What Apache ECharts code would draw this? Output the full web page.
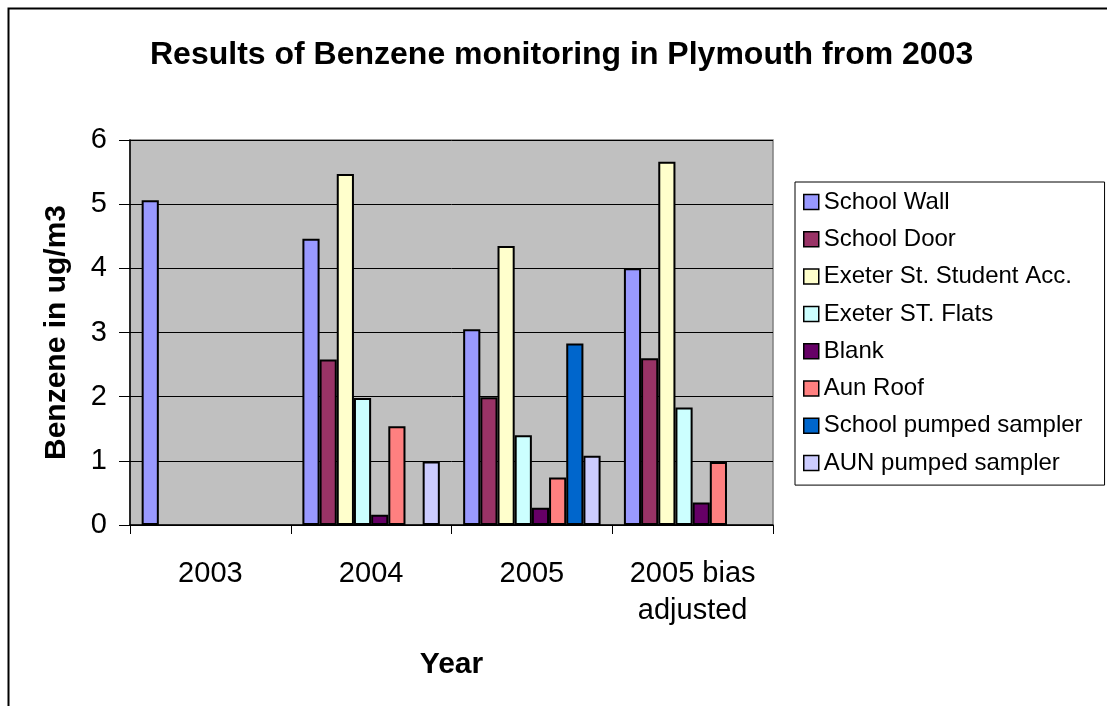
<!DOCTYPE html>
<html>
<head>
<meta charset="utf-8">
<title>Benzene monitoring in Plymouth</title>
<script src="https://cdn.jsdelivr.net/npm/echarts@6/dist/echarts.min.js"></script>
<style>
  html, body { margin: 0; padding: 0; background: #fff; }
  #chart { width: 1107px; height: 706px; }
</style>
</head>
<body>
<div id="chart"></div>
<script>
// categories (x axis)
const years = ['2003', '2004', '2005', '2005 bias\nadjusted']

// series values, null where no bar
const schoolWall = [5.06, 4.46, 3.05, 4.0]
const schoolDoor = [null, 2.58, 1.99, 2.6]
const exeterStudent = [null, 5.47, 4.35, 5.66]
const exeterFlats = [null, 1.98, 1.4, 1.83]
const blank = [null, 0.16, 0.27, 0.35]
const aunRoof = [null, 1.54, 0.74, 0.98]
const schoolPumped = [null, null, 2.83, null]
const aunPumped = [null, 0.99, 1.08, null]

const seriesNames = [
  'School Wall',
  'School Door',
  'Exeter St. Student Acc.',
  'Exeter ST. Flats',
  'Blank',
  'Aun Roof',
  'School pumped sampler',
  'AUN pumped sampler',
]
const seriesData = [schoolWall, schoolDoor, exeterStudent, exeterFlats, blank, aunRoof, schoolPumped, aunPumped]
const colors = ['#9999FF', '#993366', '#FFFFCC', '#CCFFFF', '#660066', '#FF8080', '#0066CC', '#CCCCFF']

const font = '"Liberation Sans", Arial, Helvetica, sans-serif'

const chart = echarts.init(document.getElementById('chart'), null, { renderer: 'canvas' })

const option = {
  animation: false,
  backgroundColor: '#fff',
  color: colors,
  textStyle: { fontFamily: font, color: '#000' },
  title: {
    text: 'Results of Benzene monitoring in Plymouth from 2003',
    left: 150,
    top: 39,
    padding: 0,
    textStyle: { fontFamily: font, fontSize: 32, fontWeight: 'bold', color: '#000' },
  },
  legend: {
    orient: 'vertical',
    left: 795,
    top: 182,
    padding: [8, 22, 10, 8],
    itemGap: 13.3,
    itemWidth: 15,
    itemHeight: 15,
    icon: 'rect',
    borderColor: '#000',
    borderWidth: 1,
    backgroundColor: '#fff',
    itemStyle: { borderColor: '#000', borderWidth: 1.5 },
    textStyle: { fontFamily: font, fontSize: 24, lineHeight: 24, color: '#000' },
    data: seriesNames,
  },
  grid: {
    left: 130,
    right: 334,
    top: 140,
    bottom: 181,
    show: true,
    backgroundColor: '#C0C0C0',
    borderColor: '#808080',
    borderWidth: 1.5,
  },
  xAxis: {
    type: 'category',
    data: years,
    name: 'Year',
    nameLocation: 'middle',
    nameGap: 125,
    nameTextStyle: { fontFamily: font, fontSize: 30, fontWeight: 'bold', color: '#000' },
    axisLine: { lineStyle: { color: '#000', width: 1.5 } },
    axisTick: { show: true, interval: 0, length: 9, lineStyle: { color: '#000', width: 1 } },
    axisLabel: { interval: 0, margin: 30, fontSize: 29, lineHeight: 37, color: '#000', fontFamily: font },
  },
  yAxis: {
    type: 'value',
    min: 0,
    max: 6,
    interval: 1,
    name: 'Benzene in ug/m3',
    nameLocation: 'middle',
    nameGap: 58,
    nameTextStyle: { fontFamily: font, fontSize: 30, fontWeight: 'bold', color: '#000' },
    axisLine: { show: true, lineStyle: { color: '#000', width: 1.5 } },
    axisTick: { show: true, length: 11, lineStyle: { color: '#000', width: 1 } },
    axisLabel: { margin: 23, fontSize: 29, color: '#000', fontFamily: font },
    splitLine: { show: true, lineStyle: { color: '#000', width: 1 } },
  },
  series: seriesNames.map((name, i) => ({
    name: name,
    type: 'bar',
    data: seriesData[i],
    barGap: '0%',
    barCategoryGap: '14.5%',
    itemStyle: { color: colors[i], borderColor: '#000', borderWidth: 2 },
  })),
  graphic: [
    {
      type: 'rect',
      left: 6,
      top: 6,
      shape: { width: 1200, height: 800 },
      style: { fill: 'none', stroke: '#000', lineWidth: 2 },
      silent: true,
    },
  ],
}

chart.setOption(option)
</script>
</body>
</html>
